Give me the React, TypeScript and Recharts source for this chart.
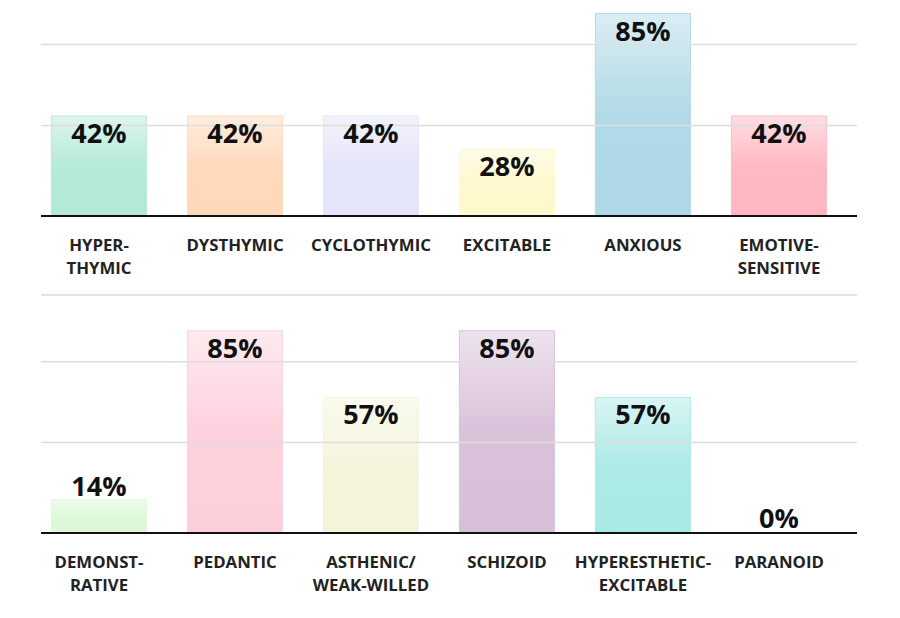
import {Bar, BarChart, Cell, LabelList, ReferenceLine, XAxis, YAxis} from 'recharts'
import {JSX} from 'react'

const topCategories = ['HYPER-\nTHYMIC', 'DYSTHYMIC', 'CYCLOTHYMIC', 'EXCITABLE', 'ANXIOUS', 'EMOTIVE-\nSENSITIVE']
const topValues = [42, 42, 42, 28, 85, 42]
const topColors = ['#b2e9d8', '#ffd8b8', '#e4e4f9', '#fff8cc', '#add8e6', '#ffb6c1']

const bottomCategories = ['DEMONST-\nRATIVE', 'PEDANTIC', 'ASTHENIC/\nWEAK-WILLED', 'SCHIZOID', 'HYPERESTHETIC-\nEXCITABLE', 'PARANOID']
const bottomValues = [14, 85, 57, 85, 57, 0]
const bottomColors = ['#dcf8d6', '#fdcfdb', '#f4f4da', '#d8bfd8', '#a9e9e6', '#e0e0e0']

const gridTicks = [38, 72, 100]
const FONT = '"Open Sans", "Noto Sans", sans-serif'

const CategoryTick = (props: any): JSX.Element => {
	const {x, y, payload} = props
	const lines = String(payload.value).split('\n')
	return (
		<text x={x} y={y} textAnchor='middle' fontFamily={FONT} fontWeight={700} fontSize={16.8} fill='#222'>
			{lines.map((l, i) => (
				<tspan key={i} x={x} y={y + 35 + i * 23}>{l}</tspan>
			))}
		</text>
	)
}

const ValueLabel = (props: any): JSX.Element => {
	const {x, y, width, height, value} = props
	const inside = height > 40
	const ty = inside ? y + 27 : y - 4
	return (
		<text x={x + width / 2} y={ty} textAnchor='middle' fontFamily={FONT} fontWeight={700} fontSize={27} fill='#111'>
			{value}%
		</text>
	)
}

type PanelProps = {
	id: string
	categories: string[]
	values: number[]
	colors: string[]
	max: number
	height: number
	top: number
	axisHeight: number
}

const Panel = ({id, categories, values, colors, max, height, top, axisHeight}: PanelProps): JSX.Element => {
	const data = categories.map((name, i) => ({name, value: values[i]}))
	return (
		<div style={{position: 'absolute', left: 0, top}}>
			<BarChart width={900} height={height} data={data} barCategoryGap='15%'
				margin={{top: 10, right: 43, left: 41, bottom: 0}}>
				<defs>
					{colors.map((c, i) => (
						<linearGradient key={i} id={`${id}${i}`} x1='0' y1='0' x2='0' y2='1'>
							<stop offset='0%' stopColor={c} stopOpacity={0.45} />
							<stop offset='50%' stopColor={c} stopOpacity={0.95} />
							<stop offset='100%' stopColor={c} stopOpacity={1} />
						</linearGradient>
					))}
				</defs>
				<YAxis hide domain={[0, max]} allowDataOverflow />
				<XAxis dataKey='name' interval={0} height={axisHeight} tickSize={0} tickMargin={0} tickLine={false}
					axisLine={{stroke: '#111', strokeWidth: 2}} padding={{left: -10, right: 10}} tick={<CategoryTick />} />
				{gridTicks.filter((t) => t <= max).map((t) => (
					<ReferenceLine key={t} y={t} stroke='#dddddd' strokeWidth={1.5} />
				))}
				<Bar dataKey='value' isAnimationActive={false} minPointSize={1}>
					{data.map((d, i) => (
						<Cell key={i} fill={d.value === 0 ? 'none' : `url(#${id}${i})`}
							stroke={d.value === 0 ? 'none' : colors[i]} strokeOpacity={0.9} strokeWidth={1} />
					))}
					<LabelList dataKey='value' content={<ValueLabel />} />
				</Bar>
			</BarChart>
		</div>
	)
}

const App = (): JSX.Element => {
	return (
		<div style={{position: 'absolute', left: 0, top: 0, width: 900, height: 618, background: '#fff'}}>
			<Panel id='gt' categories={topCategories} values={topValues} colors={topColors} max={86.5} height={295} top={0} axisHeight={79} />
			<Panel id='gb' categories={bottomCategories} values={bottomValues} colors={bottomColors} max={100} height={333} top={285} axisHeight={85} />
		</div>
	)
}

export default App
